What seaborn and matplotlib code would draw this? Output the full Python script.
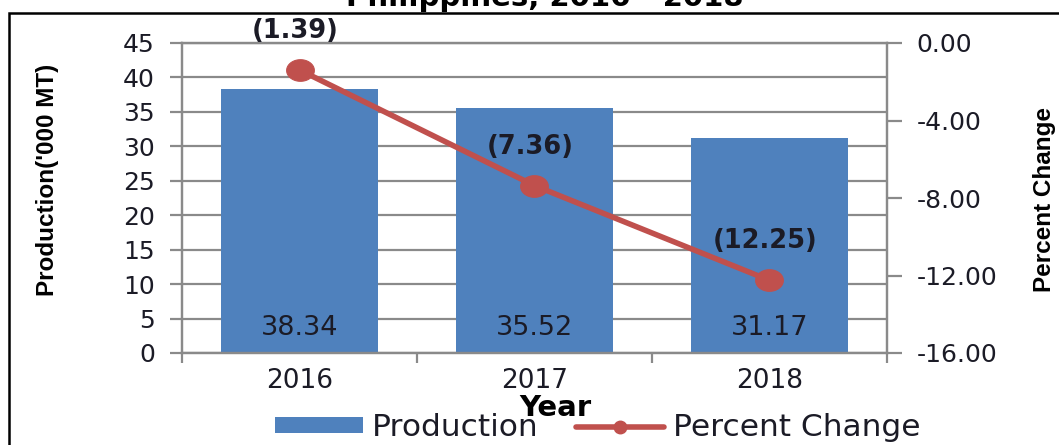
import matplotlib
matplotlib.use("Agg")
import matplotlib.pyplot as plt
import matplotlib.path as mpath
from matplotlib.patches import Rectangle, Patch
from matplotlib.lines import Line2D
import numpy as np
import pandas as pd
import seaborn as sns

# ---- data -------------------------------------------------------------
years = ["2016", "2017", "2018"]
production = [38.34, 35.52, 31.17]          # '000 MT
pct_change = [-1.39, -7.36, -12.25]         # percent
prod_ticks = [0, 5, 10, 15, 20, 25, 30, 35, 40, 45]
pct_ticks = [0, -4, -8, -12, -16]
pct_tick_labels = ["0.00", "-4.00", "-8.00", "-12.00", "-16.00"]

# ---- style ------------------------------------------------------------
sns.set_theme(style="white")
plt.rcParams["font.family"] = ["DejaVu Sans"]
plt.rcParams["axes.unicode_minus"] = False

BAR = "#4F81BD"
LINE = "#C0504D"
GRID = "#8a8a8a"
TXT = "#1b1b26"
ARIAL = ["Liberation Sans", "DejaVu Sans"]

W, H = 1059, 445
fig = plt.figure(figsize=(W / 100, H / 100), dpi=100)
fig.patch.set_facecolor("white")

ax = fig.add_axes([182 / W, 1 - 353 / H, (887 - 182) / W, (353 - 43) / H])

df = pd.DataFrame({"Year": years, "Production": production,
                   "Percent Change": pct_change})
df["pos"] = np.arange(len(df))

# bars: production
sns.barplot(data=df, x="Year", y="Production", color=BAR, saturation=1,
            width=0.67, ax=ax, linewidth=0)
ax.set_ylim(0, 45)
ax.set_xlim(-0.5, len(years) - 0.5)
ax.set_yticks(prod_ticks)
ax.set_axisbelow(True)
ax.yaxis.grid(True, color=GRID, linewidth=1.6)
ax.xaxis.grid(False)
ax.set_xlabel("")
ax.set_ylabel("")
ax.tick_params(axis="y", left=True, direction="out", length=8.5, width=1.6,
               color=GRID, labelsize=18, labelcolor=TXT, pad=11)
ax.tick_params(axis="x", which="major", bottom=False, length=0,
               labelsize=19, labelcolor=TXT, pad=11)
ax.set_xticks(np.arange(-0.5, len(years)), minor=True)
ax.tick_params(axis="x", which="minor", bottom=True, direction="out",
               length=7.5, width=1.6, color=GRID)

for sp in ax.spines.values():
    sp.set_color(GRID)
    sp.set_linewidth(1.6)

# value labels inside the bars
for i, v in enumerate(production):
    ax.annotate(f"{v:.2f}", xy=(i, 0.08), xycoords=("data", "axes fraction"),
                ha="center", va="center", fontsize=19.5, color=TXT)

# line: percent change on the secondary axis
ax2 = ax.twinx()
t = np.linspace(0, 2 * np.pi, 60)
ellipse = mpath.Path(np.column_stack([np.cos(t), 0.78 * np.sin(t)]))
sns.lineplot(data=df, x="pos", y="Percent Change", ax=ax2, color=LINE,
             linewidth=4, marker=ellipse, markersize=20,
             markeredgecolor=LINE, markerfacecolor=LINE)
ax2.set_xlim(-0.5, len(years) - 0.5)
ax2.set_ylim(-16, 0)
ax2.set_yticks(pct_ticks)
ax2.set_yticklabels(pct_tick_labels)
ax2.set_xlabel("")
ax2.set_ylabel("")
ax2.tick_params(axis="y", right=True, direction="out", length=10.5,
                width=1.6, color=GRID, labelsize=18, labelcolor=TXT, pad=11)
ax2.tick_params(axis="x", bottom=False, top=False, labelbottom=False)
for sp in ax2.spines.values():
    sp.set_color(GRID)
    sp.set_linewidth(1.6)

for i, v in enumerate(pct_change):
    ax2.annotate(f"({abs(v):.2f})", xy=(i, v), xytext=(-3, 28),
                 textcoords="offset points", ha="center", va="center",
                 fontsize=18.5, fontweight="bold", color=TXT)

# axis titles
fig.text(48 / W, 1 - 180 / H, "Production('000 MT)", rotation=90,
         ha="center", va="center", fontsize=17.5, fontweight="bold",
         family=ARIAL, color="black")
fig.text(1033 / W, 1 - 200 / H, "Percent Change", rotation=90,
         ha="left", va="center", fontsize=17.5, fontweight="bold",
         family=ARIAL, color="black")
fig.text(555 / W, 1 - 408 / H, "Year", ha="center", va="center",
         fontsize=21, fontweight="bold", color="black")

# chart title
fig.text(545 / W, 1 - 6 / H, "Philippines, 2016 - 2018", ha="center",
         va="baseline", fontsize=21, fontweight="bold", color="black")

# legend
handles = [Patch(facecolor=BAR, edgecolor="none"),
           Line2D([0], [0], color=LINE, linewidth=4, marker="o",
                  markersize=9)]
fig.legend(handles, ["Production", "Percent Change"], loc="center",
           bbox_to_anchor=(598 / W, 1 - 428 / H), ncol=2, frameon=False,
           fontsize=22.5, handlelength=2.8, handleheight=0.42,
           handletextpad=0.3, columnspacing=1.2, labelcolor=TXT,
           borderaxespad=0, borderpad=0)

# outer chart border
fig.patches.append(Rectangle((9 / W, -0.5), 2.0, 1.5 - 13 / H,
                             transform=fig.transFigure, fill=False,
                             edgecolor="black", linewidth=1.8))

fig.savefig("out.png", dpi=100)
